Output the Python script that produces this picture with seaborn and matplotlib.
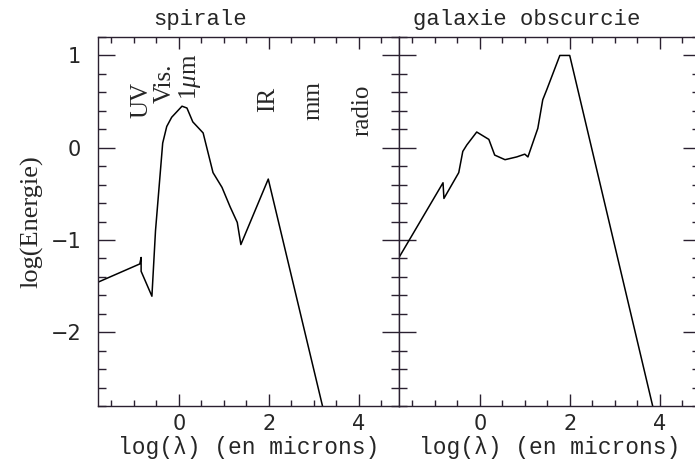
import numpy as np
import pandas as pd
import matplotlib
matplotlib.use('Agg')
import matplotlib.pyplot as plt
from matplotlib.ticker import MultipleLocator
import seaborn as sns

sns.set_style("ticks")
matplotlib.rcParams['font.family'] = ['DejaVu Sans']
matplotlib.rcParams['mathtext.fontset'] = 'custom'
matplotlib.rcParams['mathtext.rm'] = 'Liberation Serif'
matplotlib.rcParams['mathtext.it'] = 'Liberation Serif:italic'

# == SED data (log lambda in microns, log energy)
spiral_x = [-1.81, -0.87, -0.84, -0.84, -0.60, -0.52, -0.36, -0.27, -0.16, 0.07,
            0.18, 0.31, 0.54, 0.76, 0.96, 1.14, 1.30, 1.38, 1.99, 3.30]
spiral_y = [-1.46, -1.26, -1.19, -1.34, -1.61, -0.90, 0.05, 0.23, 0.33, 0.45,
            0.43, 0.28, 0.16, -0.27, -0.43, -0.64, -0.81, -1.05, -0.34, -3.01]

obsc_x = [-1.80, -0.82, -0.80, -0.47, -0.38, -0.29, -0.07, 0.20, 0.33, 0.56,
          0.82, 1.00, 1.07, 1.29, 1.40, 1.49, 1.78, 2.00, 3.90]
obsc_y = [-1.19, -0.38, -0.55, -0.27, -0.04, 0.03, 0.17, 0.09, -0.08, -0.13,
          -0.10, -0.07, -0.10, 0.21, 0.52, 0.63, 1.00, 1.00, -2.91]

band_labels = ['UV', 'Vis.', r'1$\mu$m', 'IR', 'mm', 'radio']
band_x = [-0.83, -0.31, 0.25, 1.99, 3.00, 4.08]
band_y = [0.52, 0.70, 0.77, 0.52, 0.51, 0.41]

titles = ['spirale', 'galaxie obscurcie']
title_pos = [0.34, 0.425]

fig = plt.figure(figsize=(6.95, 4.62), dpi=100)
ax1 = fig.add_axes([98/695, 56/462, 301/695, 369/462])
ax2 = fig.add_axes([399/695, 56/462, 301/695, 369/462])

inkc = '#2a2030'
mono = 'Liberation Mono'
serif = 'Liberation Serif'

for ax, xs, ys, title, tpos in [(ax1, spiral_x, spiral_y, titles[0], title_pos[0]),
                                (ax2, obsc_x, obsc_y, titles[1], title_pos[1])]:
    df = pd.DataFrame({'x': xs, 'y': ys})
    sns.lineplot(data=df, x='x', y='y', sort=False, estimator=None,
                 color='k', lw=1.1, ax=ax)
    ax.set_xlim(-1.8, 4.9)
    ax.set_ylim(-2.8, 1.2)
    ax.xaxis.set_major_locator(MultipleLocator(2))
    ax.xaxis.set_minor_locator(MultipleLocator(0.5))
    ax.yaxis.set_major_locator(MultipleLocator(1))
    ax.yaxis.set_minor_locator(MultipleLocator(0.2))
    ax.tick_params(axis='both', which='both', direction='in', top=True, right=True,
                   color=inkc, width=1.0)
    ax.tick_params(axis='x', which='major', length=8.5, pad=6, labelsize=15)
    ax.tick_params(axis='x', which='minor', length=4.3)
    ax.tick_params(axis='y', which='major', length=12, pad=12, labelsize=15)
    ax.tick_params(axis='y', which='minor', length=5.8)
    for sp in ax.spines.values():
        sp.set_color(inkc)
        sp.set_linewidth(1.0)
    ax.text(tpos, 1.02, title, transform=ax.transAxes, ha='center', va='bottom',
            fontfamily=mono, fontsize=16)
    ax.set_xlabel('log(λ) (en microns)', fontfamily=mono, fontsize=16.5, labelpad=1)
    ax.set_ylabel('')

ax1.set_ylabel('log(Energie)', fontfamily=serif, fontsize=19, labelpad=5)
ax2.tick_params(axis='y', which='both', labelleft=False)

for lab, bx, by in zip(band_labels, band_x, band_y):
    ax1.text(bx, by, lab, rotation=90, ha='center', va='center',
             fontfamily=serif, fontsize=18)

fig.savefig('out.png', dpi=100)
